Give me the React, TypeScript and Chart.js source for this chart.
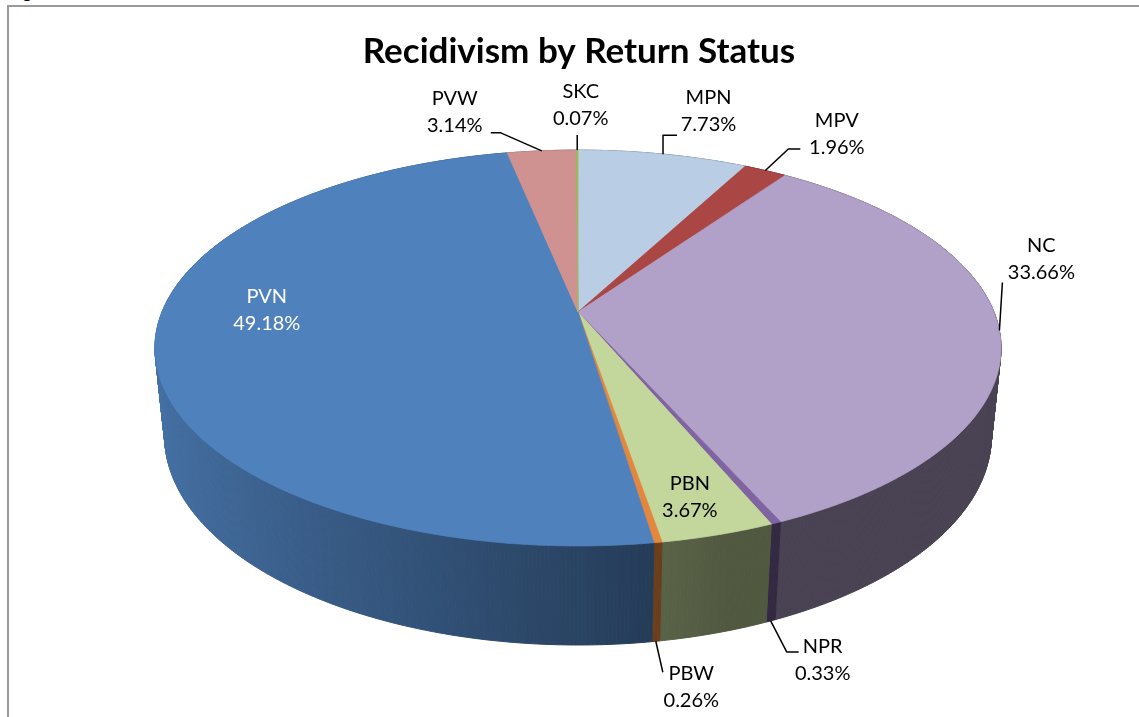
import React, { useEffect, useRef } from 'react';
import { Chart, registerables } from 'chart.js';

Chart.register(...registerables);

// ---------- data ----------
const chartTitle = 'Recidivism by Return Status';
const categories = ['MPN', 'MPV', 'NC', 'NPR', 'PBN', 'PBW', 'PVN', 'PVW', 'SKC'];
const shares = [7.73, 1.96, 33.66, 0.33, 3.67, 0.26, 49.18, 3.14, 0.07];
const topColors = ['#B9CDE5', '#AA4643', '#B1A0C7', '#8064A2', '#C3D69B', '#E3873E', '#4F81BD', '#D09290', '#9BBB59'];

// ---------- layout (3D projection + label placement) ----------
const PROJ = { cx: 578, cy: 312, f: 2030, L: 4.88, sinP: 0.46, cosP: 0.888, depth: 0.2398 };

type Placement = { at: 'top' | 'bottom' | 'inside'; dx: number; dy: number; leader: number[][]; color?: string };
const labelPlacement: Placement[] = [
  { at: 'top', dx: 45.5, dy: -43, leader: [[0, -19], [14, -19]] }, // MPN
  { at: 'top', dx: 71.5, dy: -37, leader: [[23, -21.6], [35, -21.6]] }, // MPV
  { at: 'top', dx: 42, dy: -72, leader: [[3, -48]] }, // NC
  { at: 'bottom', dx: 52, dy: 39, leader: [[16, 31], [28, 31]] }, // NPR
  { at: 'inside', dx: 12, dy: 26, leader: [] }, // PBN
  { at: 'bottom', dx: 35.5, dy: 46, leader: [[7, 31]] }, // PBW
  { at: 'inside', dx: 3.5, dy: -28, leader: [], color: '#ffffff' }, // PVN
  { at: 'top', dx: -87, dy: -38.5, leader: [[-41, -18], [-51, -18]] }, // PVW
  { at: 'top', dx: 3.5, dy: -45, leader: [[0, -15]] }, // SKC
];

const LABEL_FONT = '20px Lato';
const LINE_GAP = 27;

function project(theta: number, r: number, Y: number): [number, number] {
  const { cx, cy, f, L, sinP, cosP } = PROJ;
  const u = r * Math.sin(theta);
  const v = r * Math.cos(theta);
  const d = L - Y * sinP + v * cosP;
  const up = Y * cosP + v * sinP;
  return [cx + (f * u) / d, cy - (f * up) / d];
}

function shade(hex: string, k: number): string {
  const n = parseInt(hex.slice(1), 16);
  const r = Math.round(((n >> 16) & 255) * k);
  const g = Math.round(((n >> 8) & 255) * k);
  const b = Math.round((n & 255) * k);
  return `rgb(${r},${g},${b})`;
}

function wallLight(theta: number): number {
  return Math.max(0.41, 0.52 + 0.36 * -Math.sin(theta));
}

const pie3d = {
  id: 'pie3d',
  beforeDatasetDraw() {
    return false;
  },
  afterDatasetsDraw(chart: any) {
    const ctx: CanvasRenderingContext2D = chart.ctx;
    const meta = chart.getDatasetMeta(0);
    const arcs = meta.data.map((el: any, i: number) => {
      const p = el.getProps(['startAngle', 'endAngle'], true);
      return { a: p.startAngle + Math.PI / 2, b: p.endAngle + Math.PI / 2, i };
    });
    const H = -PROJ.depth;
    ctx.save();
    ctx.lineJoin = 'round';

    // outer walls, painted back to front
    const quads: { i: number; t1: number; t2: number; z: number; k: number }[] = [];
    arcs.forEach(({ a, b, i }: any) => {
      const n = Math.max(1, Math.ceil((b - a) / 0.008));
      for (let s = 0; s < n; s++) {
        const t1 = a + ((b - a) * s) / n;
        const t2 = a + ((b - a) * (s + 1)) / n;
        const tm = (t1 + t2) / 2;
        quads.push({ i, t1, t2, z: Math.cos(tm), k: wallLight(tm) });
      }
    });
    quads.sort((p, q) => q.z - p.z);
    for (const q of quads) {
      const p1 = project(q.t1, 1, 0);
      const p2 = project(q.t2, 1, 0);
      const p3 = project(q.t2, 1, H);
      const p4 = project(q.t1, 1, H);
      const col = shade(topColors[q.i], q.k);
      ctx.beginPath();
      ctx.moveTo(p1[0], p1[1]);
      ctx.lineTo(p2[0], p2[1]);
      ctx.lineTo(p3[0], p3[1]);
      ctx.lineTo(p4[0], p4[1]);
      ctx.closePath();
      ctx.fillStyle = col;
      ctx.strokeStyle = col;
      ctx.lineWidth = 1;
      ctx.fill();
      ctx.stroke();
    }

    // top face
    const apex = project(0, 0, 0);
    arcs.forEach(({ a, b, i }: any) => {
      const n = Math.max(2, Math.ceil((b - a) / 0.005));
      ctx.beginPath();
      ctx.moveTo(apex[0], apex[1]);
      for (let s = 0; s <= n; s++) {
        const t = a + ((b - a) * s) / n;
        const p = project(t, 1, 0);
        ctx.lineTo(p[0], p[1]);
      }
      ctx.closePath();
      ctx.fillStyle = topColors[i];
      ctx.strokeStyle = topColors[i];
      ctx.lineWidth = 0.8;
      ctx.fill();
      ctx.stroke();
    });

    // data labels with leader lines
    ctx.font = LABEL_FONT;
    ctx.textAlign = 'center';
    ctx.textBaseline = 'middle';
    arcs.forEach(({ a, b, i }: any) => {
      const pl = labelPlacement[i];
      const mid = (a + b) / 2;
      const anchor =
        pl.at === 'top' ? project(mid, 1, 0) : pl.at === 'bottom' ? project(mid, 1, H) : project(mid, 0.75, 0);
      if (pl.leader.length) {
        ctx.beginPath();
        ctx.moveTo(anchor[0], anchor[1]);
        pl.leader.forEach(([lx, ly]) => ctx.lineTo(anchor[0] + lx, anchor[1] + ly));
        ctx.strokeStyle = '#000';
        ctx.lineWidth = 1.5;
        ctx.stroke();
      }
      const tx = anchor[0] + pl.dx;
      const ty = anchor[1] + pl.dy;
      ctx.fillStyle = pl.color || '#000';
      ctx.fillText(categories[i], tx, ty - LINE_GAP / 2);
      ctx.fillText(shares[i].toFixed(2) + '%', tx, ty + LINE_GAP / 2);
    });
    ctx.restore();
  },
};

export default function App() {
  const ref = useRef<HTMLCanvasElement>(null);
  useEffect(() => {
    const chart = new Chart(ref.current as HTMLCanvasElement, {
      type: 'pie',
      data: {
        labels: categories,
        datasets: [{ data: shares, backgroundColor: topColors, borderWidth: 0 }],
      },
      options: {
        responsive: false,
        maintainAspectRatio: false,
        devicePixelRatio: 1,
        animation: false,
        events: [],
        layout: { padding: { left: 19, right: 0, top: 0, bottom: 0 } },
        plugins: {
          legend: { display: false },
          tooltip: { enabled: false },
          title: {
            display: true,
            text: chartTitle,
            color: '#000',
            font: { family: 'Lato', size: 35, weight: 'bold' },
            padding: { top: 31, bottom: 10 },
          },
        },
      },
      plugins: [pie3d],
    } as any);
    return () => chart.destroy();
  }, []);

  return (
    <div style={{ position: 'fixed', left: 0, top: 0, width: 1139, height: 717, overflow: 'hidden', background: '#fff' }}>
      <div
        style={{
          position: 'absolute',
          left: 10,
          top: -16,
          font: 'bold 16px Lato',
          lineHeight: '16px',
          color: '#000',
          whiteSpace: 'nowrap',
        }}
      >
        Figure 6
      </div>
      <div
        style={{
          position: 'absolute',
          left: 7,
          top: 5,
          width: 1200,
          height: 800,
          borderTop: '2px solid #9a9a9a',
          borderLeft: '2px solid #9a9a9a',
        }}
      />
      <canvas ref={ref} width={1139} height={717} style={{ position: 'absolute', left: 0, top: 0 }} />
    </div>
  );
}
